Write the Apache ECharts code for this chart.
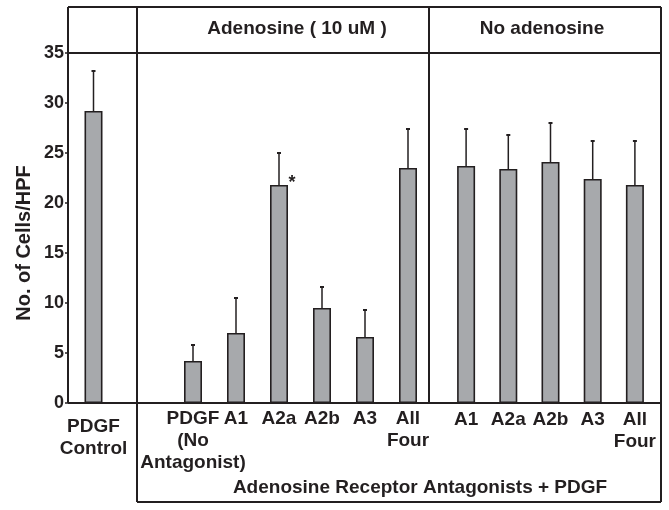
<!DOCTYPE html>
<html><head><meta charset="utf-8">
<script src="https://cdn.jsdelivr.net/npm/echarts@6/dist/echarts.min.js"></script>
<style>html,body{margin:0;padding:0;background:#fff}#c{width:669px;height:510px}</style>
</head><body><div id="c"></div>
<script>
// ---- data ----
const controlCats = ['PDGF\nControl'];
const controlMeans = [29.2];
const controlErr = [4.0];
const adenosineCats = ['PDGF\n(No\nAntagonist)', 'A1', 'A2a', 'A2b', 'A3', 'All\nFour'];
const adenosineMeans = [4.2, 7.0, 21.8, 9.5, 6.6, 23.5];
const adenosineErr = [1.6, 3.5, 3.2, 2.1, 2.7, 3.9];
const adenosineMarks = ['', '', '*', '', '', ''];
const noAdenosineCats = ['A1', 'A2a', 'A2b', 'A3', 'All\nFour'];
const noAdenosineMeans = [23.7, 23.4, 24.1, 22.4, 21.8];
const noAdenosineErr = [3.7, 3.4, 3.9, 3.8, 4.4];
const yMin = 0, yMax = 35, yStep = 5;
const headerTitles = ['Adenosine ( 10 uM )', 'No adenosine'];
const footerTitle = 'Adenosine Receptor Antagonists + PDGF';
const yTitle = 'No. of Cells/HPF';

// ---- styles ----
const FONT = '"Liberation Sans", Arial, Helvetica, sans-serif';
const INK = '#231f20';
const BAR = '#a7a9ac';

const chart = echarts.init(document.getElementById('c'), null, {renderer: 'canvas'});

const gridTop = 53, gridBottom = 107;
const grids = [
  {left: 68, width: 51, top: gridTop, bottom: gridBottom},
  {left: 171.5, width: 258, top: gridTop, bottom: gridBottom},
  {left: 445, width: 211, top: gridTop, bottom: gridBottom}
];

function xAxis(idx, cats, margin) {
  return {
    type: 'category', gridIndex: idx, data: cats,
    axisLine: {show: false}, axisTick: {show: false},
    axisLabel: {interval: 0, margin: margin, fontFamily: FONT, fontWeight: 'bold',
      fontSize: 19, lineHeight: 22, color: INK}
  };
}
function yAxis(idx, show) {
  return {
    type: 'value', gridIndex: idx, min: yMin, max: yMax, interval: yStep,
    splitLine: {show: false}, axisLine: {show: false},
    axisTick: {show: show, length: 3, lineStyle: {color: INK, width: 1.5}},
    axisLabel: {show: show, margin: 4, fontFamily: FONT, fontWeight: 'bold', fontSize: 18, color: INK}
  };
}
function bars(idx, means) {
  return {
    type: 'bar', xAxisIndex: idx, yAxisIndex: idx, data: means, barWidth: 18,
    itemStyle: {color: BAR, borderColor: INK, borderWidth: 1.6},
    silent: true, animation: false
  };
}
function errs(idx, means, err, marks) {
  return {
    type: 'custom', xAxisIndex: idx, yAxisIndex: idx,
    data: means.map((m, i) => [i, m, err[i]]),
    encode: {x: 0, y: 1},
    animation: false, silent: true, z: 5,
    renderItem: function (params, api) {
      const i = api.value(0), m = api.value(1), e = api.value(2);
      const p0 = api.coord([i, m]);
      const p1 = api.coord([i, m + e]);
      const children = [
        {type: 'line', shape: {x1: p0[0], y1: p0[1], x2: p1[0], y2: p1[1]}, style: {stroke: INK, lineWidth: 1.5}},
        {type: 'line', shape: {x1: p1[0] - 2, y1: p1[1], x2: p1[0] + 2, y2: p1[1]}, style: {stroke: INK, lineWidth: 2}}
      ];
      const mk = marks ? marks[params.dataIndex] : '';
      if (mk) {
        children.push({type: 'text', x: p0[0] + 13, y: p0[1] - 2,
          style: {text: mk, fontFamily: FONT, fontWeight: 'bold', fontSize: 18, fill: INK,
            align: 'center', verticalAlign: 'middle'}});
      }
      return {type: 'group', children: children};
    }
  };
}

const line = (x1, y1, x2, y2) => ({type: 'line', shape: {x1, y1, x2, y2},
  style: {stroke: INK, lineWidth: 2}, z: 10});
const txt = (x, y, t, size, rot) => ({type: 'text', x: x, y: y, rotation: rot || 0,
  style: {text: t, fontFamily: FONT, fontWeight: 'bold', fontSize: size, fill: INK,
    align: 'center', verticalAlign: 'middle'}, z: 10});

chart.setOption({
  backgroundColor: '#fff',
  animation: false,
  grid: grids,
  xAxis: [xAxis(0, controlCats, 13), xAxis(1, adenosineCats, 5), xAxis(2, noAdenosineCats, 6)],
  yAxis: [yAxis(0, true), yAxis(1, false), yAxis(2, false)],
  series: [
    bars(0, controlMeans), errs(0, controlMeans, controlErr, null),
    bars(1, adenosineMeans), errs(1, adenosineMeans, adenosineErr, adenosineMarks),
    bars(2, noAdenosineMeans), errs(2, noAdenosineMeans, noAdenosineErr, null)
  ],
  graphic: [
    line(68, 7, 661, 7),
    line(68, 7, 68, 403),
    line(661, 7, 661, 502),
    line(68, 53, 661, 53),
    line(68, 403, 661, 403),
    line(137, 7, 137, 502),
    line(429, 7, 429, 403),
    line(137, 502, 661, 502),
    txt(297, 29, headerTitles[0], 19),
    txt(542, 29, headerTitles[1], 19),
    txt(420, 488, footerTitle, 19),
    txt(24, 243, yTitle, 20, Math.PI / 2)
  ]
});
</script>
</body></html>
